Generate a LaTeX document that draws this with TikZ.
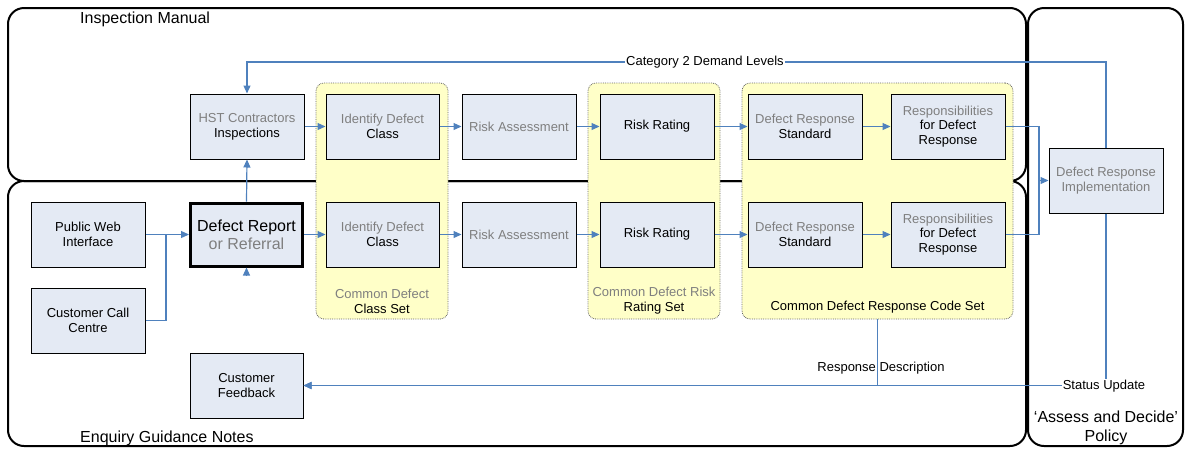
\documentclass[tikz,border=0pt]{standalone}
\usepackage{fontspec}
\setmainfont{Liberation Sans}
\usetikzlibrary{arrows.meta,calc}
\definecolor{nodefill}{HTML}{E4EAF4}
\definecolor{setfill}{HTML}{FFFFC8}
\definecolor{arrblue}{HTML}{4F81BD}
\definecolor{txtgray}{HTML}{7F7F7F}
\newcommand{\graytxt}[1]{\textcolor{txtgray}{#1}}
\begin{document}
\begin{tikzpicture}[x=1pt,y=-1pt,
  container/.style={draw=black,line width=2pt,rounded corners=16pt},
  setbox/.style={draw=black!60,densely dotted,line width=0.8pt,fill=setfill,rounded corners=8pt,inner sep=0pt},
  proc/.style={draw=black,line width=1pt,fill=nodefill,minimum width=114pt,minimum height=65pt,inner sep=0pt,align=center,font=\fontsize{13}{14.8}\selectfont},
  arr/.style={draw=arrblue,line width=1.2pt,-{Triangle[length=8pt,width=7pt]}},
  conn/.style={draw=arrblue,line width=1.2pt},
  lbl/.style={fill=white,inner sep=1pt,font=\fontsize{13}{15}\selectfont},
  setlbl/.style={align=center,font=\fontsize{13}{15}\selectfont,inner sep=0pt},
  title/.style={font=\fontsize{16}{18}\selectfont,align=center,inner sep=0pt}]
\useasboundingbox (0,0) rectangle (1185,448);
% containers
\draw[container] (8,8) rectangle (1026,181);
\draw[container] (8,181) rectangle (1026,446);
\draw[container] (1028,8) rectangle (1183,446);
\node[title,anchor=west] (tim) at (80,19) {Inspection Manual};
\node[title,anchor=west] (tegn) at (80,438) {Enquiry Guidance Notes};
\node[title] (tad) at (1106,428) {‘Assess and Decide’\\[1pt]Policy};
% set boxes
\node[setbox,minimum width=132pt,minimum height=236pt] (set1) at (382,201) {};
\node[setbox,minimum width=132pt,minimum height=236pt] (set2) at (654,201) {};
\node[setbox,minimum width=271pt,minimum height=236pt] (set3) at (877.5,201) {};
\node[setlbl] (set1lbl) at (382,301.5) {\graytxt{Common Defect}\\Class Set};
\node[setlbl] (set2lbl) at (654,301) {\graytxt{Common Defect Risk}\\Rating Set};
\node[setlbl] (set3lbl) at (877.5,307) {Common Defect Response Code Set};
% top row
\node[proc] (hst) at (247,126.5) {\graytxt{HST Contractors}\\Inspections};
\node[proc,minimum width=113pt] (id1) at (382.5,126.5) {\graytxt{Identify Defect}\\Class};
\node[proc] (ra1) at (519,126.5) {\graytxt{Risk Assessment}};
\node[proc] (rr1) at (657,126.5) {Risk Rating};
\node[proc] (drs1) at (805,126.5) {\graytxt{Defect Response}\\Standard};
\node[proc] (rsp1) at (948,126.5) {\graytxt{Responsibilities}\\for Defect\\Response};
\node[proc] (impl) at (1106,180.5) {\graytxt{Defect Response}\\\graytxt{Implementation}};
% bottom row
\node[proc] (pwi) at (88,234.5) {Public Web\\Interface};
\node[proc,line width=3pt,minimum width=112pt,minimum height=63pt,font=\fontsize{16}{18}\selectfont] (dr) at (246.5,234.5) {Defect Report\\\graytxt{or Referral}};
\node[proc,minimum width=113pt] (id2) at (382.5,234.5) {\graytxt{Identify Defect}\\Class};
\node[proc] (ra2) at (519,234.5) {\graytxt{Risk Assessment}};
\node[proc] (rr2) at (657,234.5) {Risk Rating};
\node[proc] (drs2) at (805,234.5) {\graytxt{Defect Response}\\Standard};
\node[proc] (rsp2) at (948,234.5) {\graytxt{Responsibilities}\\for Defect\\Response};
\node[proc] (ccc) at (88,320.5) {Customer Call\\Centre};
\node[proc,minimum width=113pt] (cf) at (246.5,385.5) {Customer\\Feedback};
% helper coordinates
\coordinate (j1) at (1039,180.5);
\coordinate (j2) at (166,234.5);
\coordinate (drin) at (246.5,276);
% connectors
\draw[arr] (impl.north) -- (impl.north |- 0,62) -| (hst.north);
\draw[arr] (hst.east) -- (id1.west);
\draw[arr] (id1.east) -- (ra1.west);
\draw[arr] (ra1.east) -- (rr1.west);
\draw[arr] (rr1.east) -- (drs1.west);
\draw[arr] (drs1.east) -- (rsp1.west);
\draw[conn] (rsp1.east) -| (j1);
\draw[conn] (rsp2.east) -| (j1);
\draw[arr] (j1) -- (impl.west);
\draw[arr] (dr.north) -- (hst.south);
\draw[arr] (drin) -- (dr.south);
\draw[arr] (pwi.east) -- (dr.west);
\draw[conn] (ccc.east) -| (j2);
\draw[arr] (dr.east) -- (id2.west);
\draw[arr] (id2.east) -- (ra2.west);
\draw[arr] (ra2.east) -- (rr2.west);
\draw[arr] (rr2.east) -- (drs2.west);
\draw[arr] (drs2.east) -- (rsp2.west);
\draw[arr] (set3.south) |- (cf.east);
\draw[arr] (impl.south) |- (cf.east);
% connector labels
\node[lbl] (lcat) at (705,62) {Category 2 Demand Levels};
\node[lbl,fill=none] (lresp) at (881,368) {Response Description};
\node[lbl] (lstat) at (1104,386) {Status Update};
\end{tikzpicture}
\end{document}
